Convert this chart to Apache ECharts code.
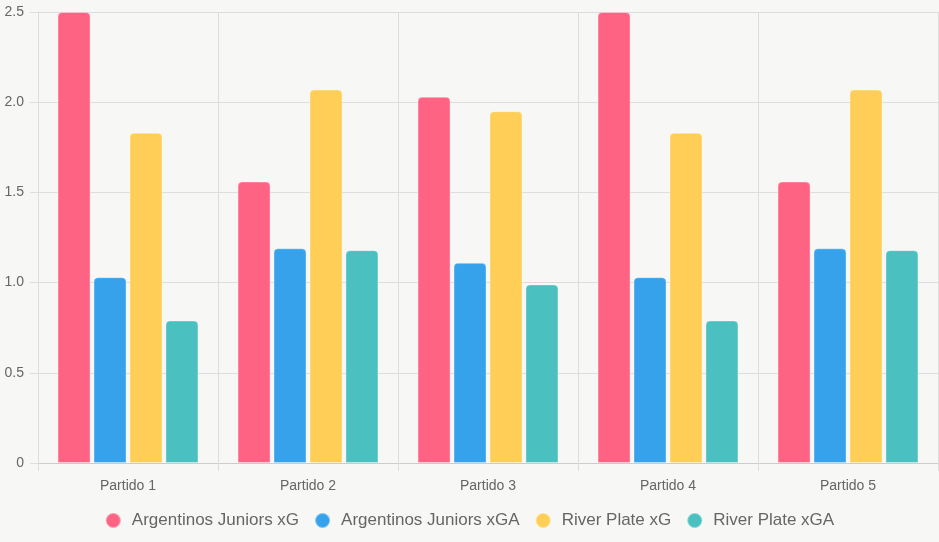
<!DOCTYPE html>
<html>
<head>
<meta charset="utf-8">
<script src="https://cdn.jsdelivr.net/npm/echarts@6/dist/echarts.min.js"></script>
<style>
  html, body { margin: 0; padding: 0; background: #f7f7f5; }
  #chart { width: 939px; height: 542px; }
</style>
</head>
<body>
<div id="chart"></div>
<script>
// datos del grafico
const partidos = ['Partido 1', 'Partido 2', 'Partido 3', 'Partido 4', 'Partido 5'];
const argentinosXG = [2.5, 1.56, 2.03, 2.5, 1.56];
const argentinosXGA = [1.03, 1.19, 1.11, 1.03, 1.19];
const riverXG = [1.83, 2.07, 1.95, 1.83, 2.07];
const riverXGA = [0.79, 1.18, 0.99, 0.79, 1.18];

const seriesNames = ['Argentinos Juniors xG', 'Argentinos Juniors xGA', 'River Plate xG', 'River Plate xGA'];
const colors = ['#ff6384', '#36a2eb', '#ffce56', '#4bc0c0'];
const values = [argentinosXG, argentinosXGA, riverXG, riverXGA];

let myChart = echarts.init(document.getElementById('chart'));
let option = {
  backgroundColor: '#f7f7f5',
  animation: false,
  grid: {
    left: 38,
    right: 1,
    top: 12,
    bottom: 79
  },
  legend: {
    bottom: 8,
    left: 'center',
    icon: 'circle',
    itemWidth: 15,
    itemHeight: 15,
    itemGap: 15,
    textStyle: { color: '#666', fontSize: 17, padding: [0, 0, 0, 6], fontFamily: 'Liberation Sans, Arial, sans-serif' },
    data: seriesNames
  },
  xAxis: {
    type: 'category',
    data: partidos,
    axisLine: { lineStyle: { color: '#ccc' } },
    axisTick: { show: true, length: 8, lineStyle: { color: '#ddd' } },
    splitLine: { show: true, lineStyle: { color: '#ddd' } },
    axisLabel: { color: '#666', fontSize: 14, margin: 16, fontFamily: 'Liberation Sans, Arial, sans-serif' }
  },
  yAxis: {
    type: 'value',
    min: 0,
    max: 2.5,
    interval: 0.5,
    axisLine: { show: true, lineStyle: { color: '#ddd' } },
    axisTick: { show: true, length: 8, lineStyle: { color: '#ddd' } },
    splitLine: { lineStyle: { color: '#ddd' } },
    axisLabel: {
      color: '#666',
      fontSize: 14,
      margin: 14,
      fontFamily: 'Liberation Sans, Arial, sans-serif',
      formatter: function (v) { return v === 0 ? '0' : v.toFixed(1); }
    }
  },
  series: seriesNames.map(function (name, i) {
    return {
      name: name,
      type: 'bar',
      data: values[i],
      barWidth: 33,
      barGap: '9%',
      itemStyle: {
        color: colors[i],
        borderRadius: [4, 4, 0, 0],
        borderColor: 'rgba(255,255,255,0.35)',
        borderWidth: 1
      }
    };
  })
};
myChart.setOption(option);
</script>
</body>
</html>
